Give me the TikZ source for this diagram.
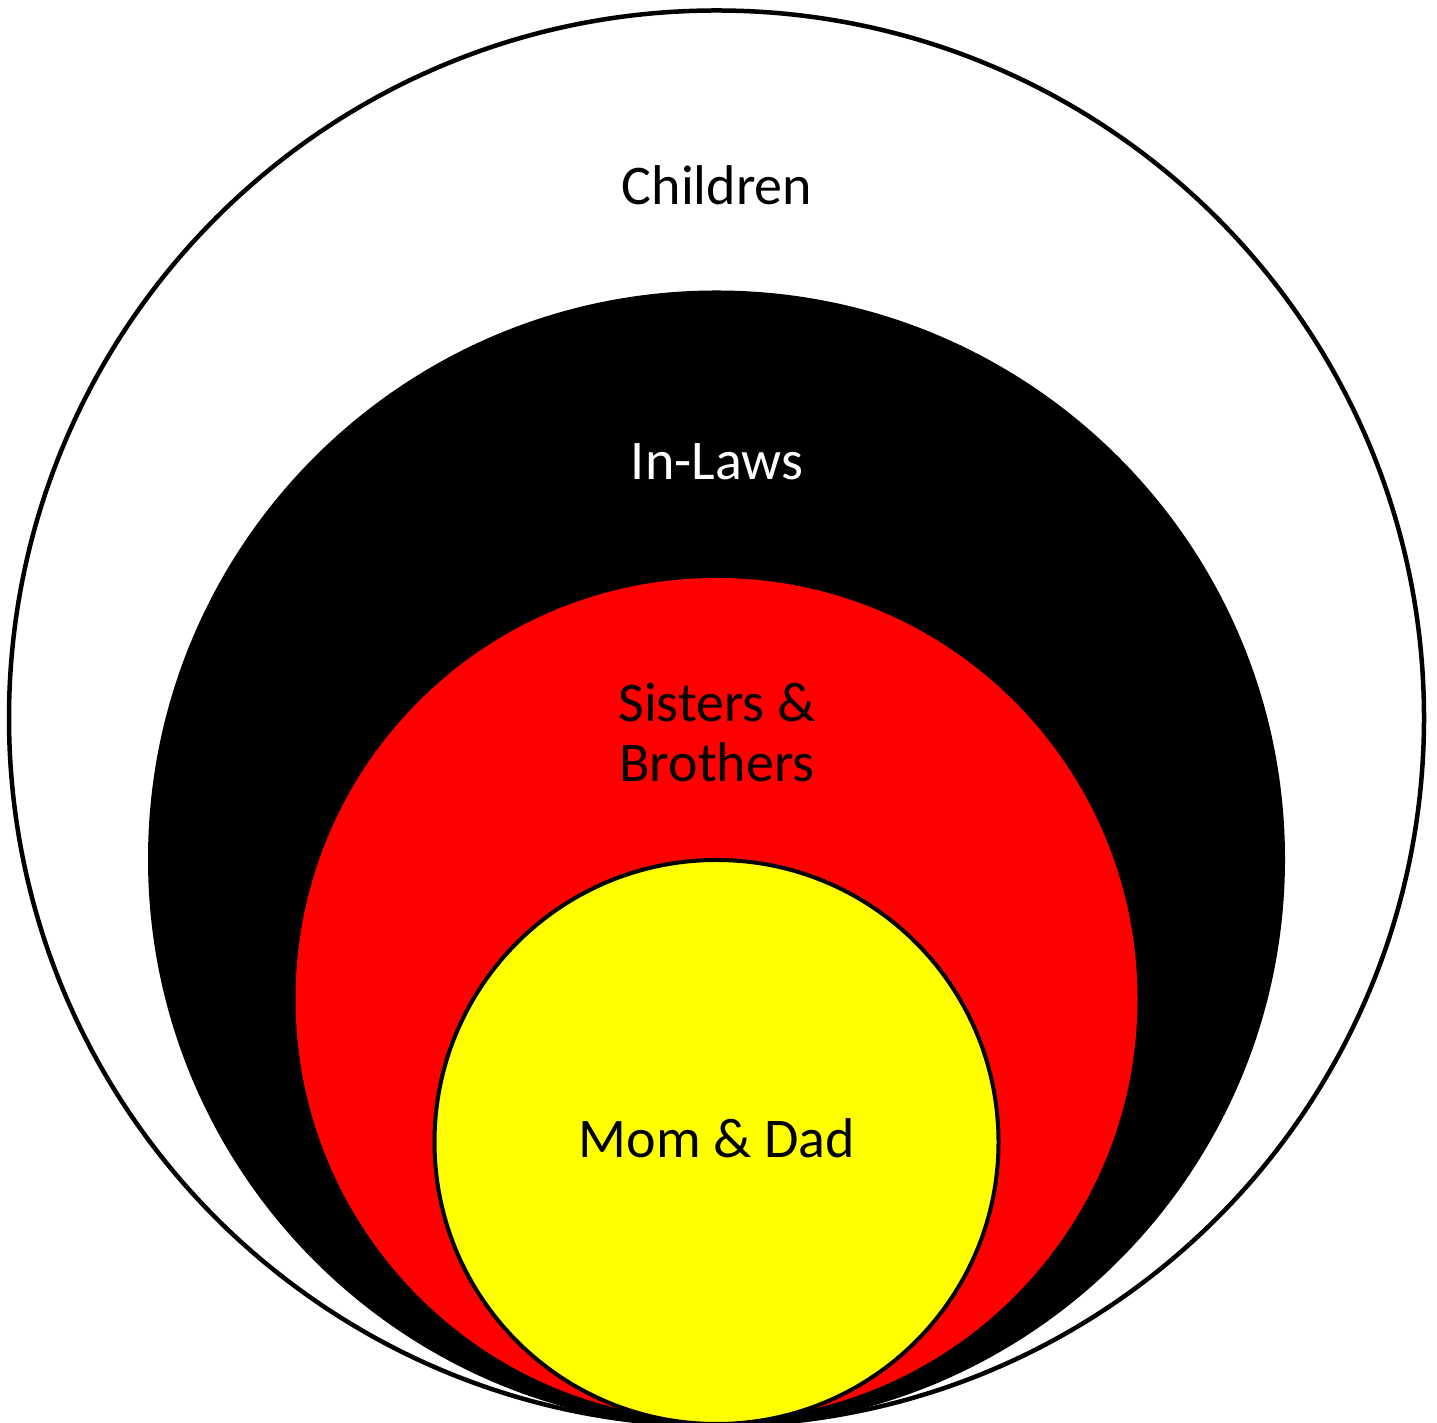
\documentclass[tikz,border=0pt]{standalone}
\usepackage{fontspec}
\setmainfont{Carlito}
\definecolor{ringred}{RGB}{255,0,0}
\definecolor{ringyellow}{RGB}{255,255,0}
\begin{document}
\begin{tikzpicture}[x=1pt,y=1pt,
  lbl/.style={anchor=base,inner sep=0pt,font=\fontsize{56}{60}\selectfont,align=center}]
\useasboundingbox (0,0) rectangle (1437,1423);
\fill[white] (0,0) rectangle (1437,1423);
% outer circle
\draw[line width=4.5pt,fill=white] (716.5,705) circle[radius=707.5];
% black
\fill[black] (716.5,564) circle[radius=568.5];
% red
\fill[ringred] (716.5,424) circle[radius=421];
% yellow
\draw[line width=4pt,fill=ringyellow] (716.5,281) circle[radius=282];
\node[lbl] (children) at (717,1218) {Children};
\node[lbl,text=white] (inlaws) at (717,943) {In-Laws};
\node[lbl] (sisters) at (717,701) {Sisters \&};
\node[lbl] (brothers) at (717,641) {Brothers};
\node[lbl] (momdad) at (717,265) {Mom \& Dad};
\end{tikzpicture}
\end{document}
